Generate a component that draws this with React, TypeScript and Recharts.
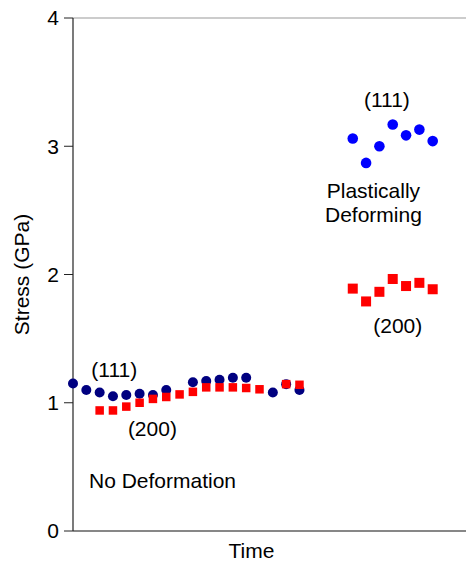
import React from 'react';
import {
  ScatterChart,
  Scatter,
  XAxis,
  YAxis,
  ReferenceLine,
  ReferenceDot,
} from 'recharts';

// ----------------------
// DATA
// ----------------------
// "No Deformation" run: time index and stress (GPa)
const elasticTime111 = [0, 1, 2, 3, 4, 5, 6, 7, 9, 10, 11, 12, 13, 15, 16, 17];
const elasticStress111 = [1.15, 1.1, 1.08, 1.05, 1.06, 1.07, 1.06, 1.1, 1.16, 1.17, 1.18, 1.195, 1.195, 1.08, 1.145, 1.1];

const elasticTime200 = [2, 3, 4, 5, 6, 7, 8, 9, 10, 11, 12, 13, 14, 16, 17];
const elasticStress200 = [0.94, 0.94, 0.97, 1.0, 1.03, 1.045, 1.065, 1.085, 1.12, 1.12, 1.12, 1.115, 1.105, 1.145, 1.14];

// "Plastically Deforming" run
const plasticTime = [21, 22, 23, 24, 25, 26, 27];
const plasticStress111 = [3.06, 2.87, 3.0, 3.17, 3.085, 3.13, 3.04];
const plasticStress200 = [1.89, 1.79, 1.865, 1.965, 1.91, 1.935, 1.885];

const yTicks = [0, 1, 2, 3, 4];

const annotations = [
  { x: 3.1, y: 1.26, text: '(111)' },
  { x: 5.96, y: 0.8, text: '(200)' },
  { x: 6.72, y: 0.395, text: 'No Deformation' },
  { x: 23.56, y: 3.365, text: '(111)' },
  { x: 22.55, y: 2.655, text: 'Plastically' },
  { x: 22.55, y: 2.468, text: 'Deforming' },
  { x: 24.38, y: 1.604, text: '(200)' },
];

const toPoints = (xs: number[], ys: number[]) => xs.map((x, i) => ({ x, y: ys[i] }));

const FONT = '"Liberation Sans", Arial, Helvetica, sans-serif';
const FS = 21;

// ----------------------
// MARKERS
// ----------------------
const circle = (fill: string, r: number) => (props: any) =>
  <circle cx={props.cx} cy={props.cy} r={r} fill={fill} />;

const square = (fill: string, s: number) => (props: any) =>
  <rect x={props.cx - s / 2} y={props.cy - s / 2} width={s} height={s} fill={fill} />;

export default function App() {
  return (
    <div style={{ fontFamily: FONT }}>
      <style>{`body{margin:0}`}</style>
      <ScatterChart width={466} height={563} margin={{ top: 18, right: 0, bottom: 0, left: 0 }}>
        <XAxis
          type="number"
          dataKey="x"
          domain={[0, 29.5]}
          tick={false}
          tickLine={false}
          axisLine={{ stroke: '#111', strokeWidth: 1.2 }}
          height={32}
          label={{ value: 'Time', position: 'insideBottom', offset: 5, dx: -18, fill: '#000', fontSize: FS, fontFamily: FONT }}
        />
        <YAxis
          type="number"
          dataKey="y"
          domain={[0, 4]}
          ticks={yTicks}
          width={73}
          tickSize={9}
          tickMargin={5}
          axisLine={{ stroke: '#222', strokeWidth: 1.2 }}
          tickLine={{ stroke: '#222' }}
          tick={{ fill: '#000', fontSize: FS, fontFamily: FONT }}
          label={{ value: 'Stress (GPa)', angle: -90, position: 'insideLeft', offset: 22, fill: '#000', fontSize: FS, fontFamily: FONT, style: { textAnchor: 'middle' } }}
        />
        <ReferenceLine y={4} stroke="#999" strokeWidth={1} />

        <Scatter data={toPoints(elasticTime111, elasticStress111)} shape={circle('#000080', 5)} isAnimationActive={false} />
        <Scatter data={toPoints(elasticTime200, elasticStress200)} shape={square('#ff0000', 8.5)} isAnimationActive={false} />
        <Scatter data={toPoints(plasticTime, plasticStress111)} shape={circle('#0000ff', 5.3)} isAnimationActive={false} />
        <Scatter data={toPoints(plasticTime, plasticStress200)} shape={square('#ff0000', 10)} isAnimationActive={false} />

        {annotations.map((a, i) => (
          <ReferenceDot
            key={i}
            x={a.x}
            y={a.y}
            r={0}
            fill="none"
            stroke="none"
            label={{ value: a.text, position: 'center', fill: '#000', fontSize: FS, fontFamily: FONT }}
          />
        ))}
      </ScatterChart>
    </div>
  );
}
